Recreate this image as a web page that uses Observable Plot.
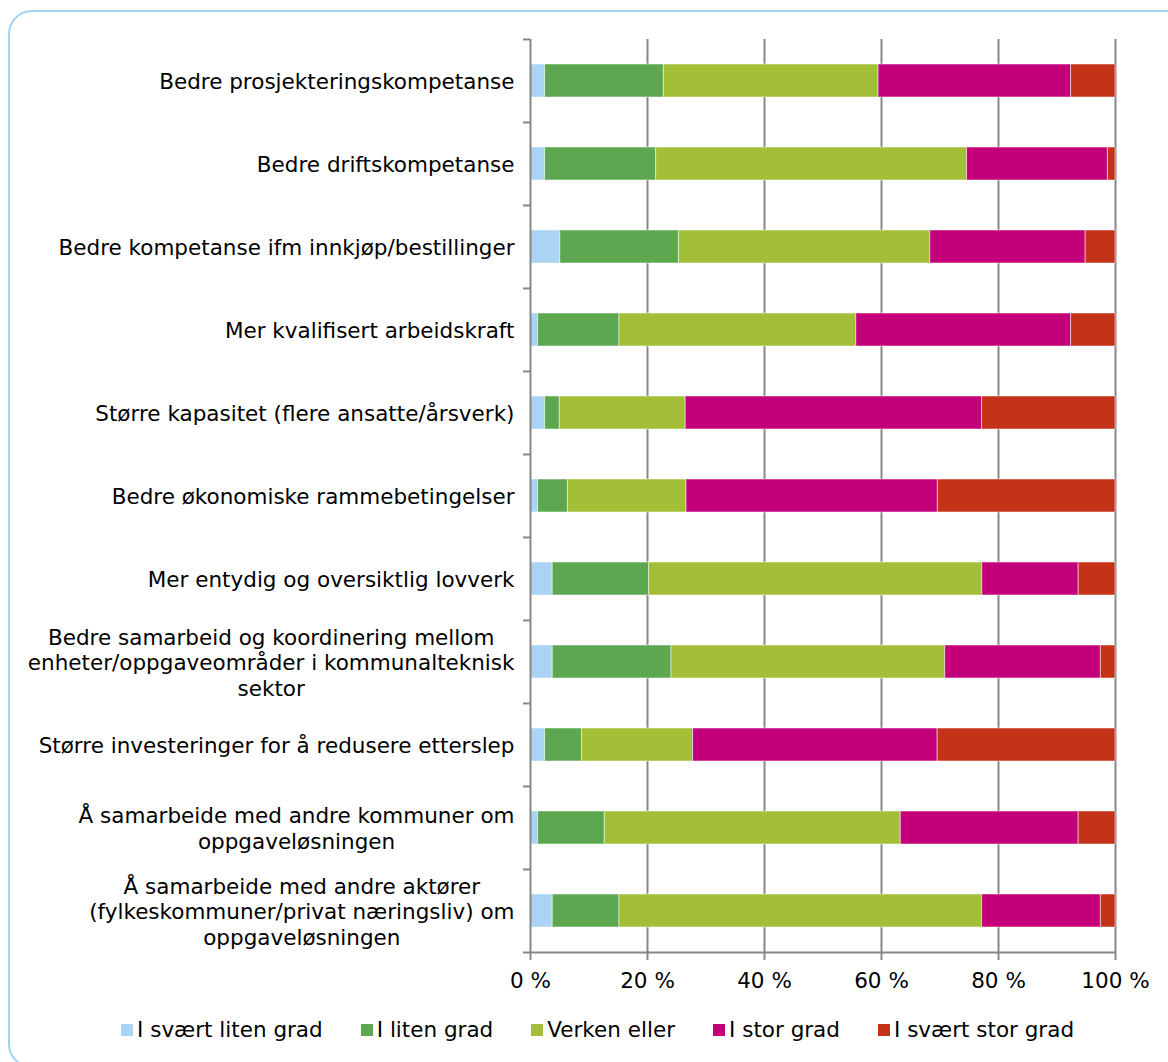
<!DOCTYPE html>
<html><head><meta charset="utf-8">
<script src="https://cdn.jsdelivr.net/npm/d3@7"></script>
<script src="https://cdn.jsdelivr.net/npm/@observablehq/plot@0.6"></script>
<style>
html,body{margin:0;padding:0;background:#fff;overflow:hidden;}
#wrap{position:relative;width:1168px;height:1062px;overflow:hidden;}
#border{position:absolute;left:8px;top:10px;width:1200px;height:1058px;border:2px solid #a3d2f3;border-radius:24px;box-sizing:border-box;}
#chart{position:absolute;left:0;top:0;}
#legend{position:absolute;left:121px;top:1017px;display:flex;gap:38px;font-family:"DejaVu Sans",Verdana,sans-serif;font-size:21.5px;color:#000;line-height:26px;}
.item{display:flex;align-items:center;}
.sw{width:12px;height:12px;margin-right:4px;}
</style></head><body>
<div id="wrap"><div id="border"></div><div id="chart"></div><div id="legend"></div></div>
<script>
const categories = [
  "Bedre prosjekteringskompetanse",
  "Bedre driftskompetanse",
  "Bedre kompetanse ifm innkjøp/bestillinger",
  "Mer kvalifisert arbeidskraft",
  "Større kapasitet (flere ansatte/årsverk)",
  "Bedre økonomiske rammebetingelser",
  "Mer entydig og oversiktlig lovverk",
  "Bedre samarbeid og koordinering mellom\nenheter/oppgaveområder i kommunalteknisk\nsektor",
  "Større investeringer for å redusere etterslep",
  "Å samarbeide med andre kommuner om\noppgaveløsningen",
  "Å samarbeide med andre aktører\n(fylkeskommuner/privat næringsliv) om\noppgaveløsningen"
];
const responses = ["I svært liten grad", "I liten grad", "Verken eller", "I stor grad", "I svært stor grad"];
const colors = ["#a9d4f3", "#5ca750", "#a2bf37", "#c3007a", "#c43218"];

// percentages per category (same order as categories)
const svaertLitenGrad = [2.5, 2.5, 5.1, 1.3, 2.5, 1.3, 3.8, 3.8, 2.5, 1.3, 3.8];
const litenGrad       = [20.3, 19.0, 20.3, 13.9, 2.5, 5.1, 16.5, 20.3, 6.3, 11.4, 11.4];
const verkenEller     = [36.7, 53.2, 43.0, 40.5, 21.5, 20.3, 57.0, 46.8, 19.0, 50.6, 62.0];
const storGrad        = [32.9, 24.1, 26.6, 36.7, 50.6, 43.0, 16.5, 26.6, 41.8, 30.4, 20.3];
const svaertStorGrad  = [7.6, 1.3, 5.1, 7.6, 22.8, 30.4, 6.3, 2.5, 30.4, 6.3, 2.5];
const tickValues = [0, 0.2, 0.4, 0.6, 0.8, 1];
const tickLabels = ["0 %", "20 %", "40 %", "60 %", "80 %", "100 %"];

const series = [svaertLitenGrad, litenGrad, verkenEller, storGrad, svaertStorGrad];
const data = categories.flatMap((c, i) => responses.map((r, j) => ({category: c, response: r, value: series[j][i]})));

const W = 1168, mL = 530, mR = 53, mT = 39, plotBottom = 953, mB = 50;
const H = plotBottom + mB;
const step = (plotBottom - mT) / categories.length;
const tickExt = 7 / (W - mL - mR);
const grid = "#878787";

const plot = Plot.plot({
  width: W, height: H,
  marginLeft: mL, marginRight: mR, marginTop: mT, marginBottom: mB,
  style: {fontFamily: "DejaVu Sans, Verdana, sans-serif", fontSize: "21.5px", color: "#000", background: "transparent", overflow: "visible"},
  x: {domain: [0, 1]},
  y: {domain: categories, paddingInner: 0.6, paddingOuter: 0.3},
  color: {domain: responses, range: colors},
  marks: [
    Plot.ruleX(tickValues.slice(1), {stroke: grid, strokeWidth: 2}),
    Plot.barX(data, Plot.stackX({x: "value", y: "category", fill: "response", offset: "normalize", order: responses, stroke: "white", strokeOpacity: 0.5, strokeWidth: 1})),
    Plot.ruleX([0], {stroke: grid, strokeWidth: 2}),
    Plot.ruleY(categories, {y: d => d, x1: -tickExt, x2: 0, dy: -step / 2, stroke: grid, strokeWidth: 2}),
    Plot.ruleY([categories[categories.length - 1]], {y: d => d, x1: -tickExt, x2: 1, dy: step / 2, stroke: grid, strokeWidth: 2}),
    Plot.axisX({ticks: tickValues, tickFormat: d => tickLabels[tickValues.indexOf(d)], tickSize: 7, tickPadding: 12, stroke: grid, strokeWidth: 2, fontSize: 21.5, label: null}),
    Plot.axisY({tickSize: 0, tickPadding: 16, label: null, fontSize: 21.5, lineHeight: 1.19})
  ]
});
document.getElementById("chart").appendChild(plot);

// center-align multi-line category labels like the original
plot.querySelectorAll("text").forEach(t => {
  const spans = t.querySelectorAll("tspan");
  if (spans.length > 1) {
    let maxW = 0;
    spans.forEach(s => { maxW = Math.max(maxW, s.getComputedTextLength()); });
    t.setAttribute("text-anchor", "middle");
    const tr = t.getAttribute("transform") || "";
    t.setAttribute("transform", tr + ` translate(${-maxW / 2},0)`);
  }
});

const legend = document.getElementById("legend");
responses.forEach((r, i) => {
  const it = document.createElement("div");
  it.className = "item";
  const sw = document.createElement("span");
  sw.className = "sw";
  sw.style.background = colors[i];
  const tx = document.createElement("span");
  tx.textContent = r;
  it.appendChild(sw); it.appendChild(tx);
  legend.appendChild(it);
});
</script>
</body></html>
